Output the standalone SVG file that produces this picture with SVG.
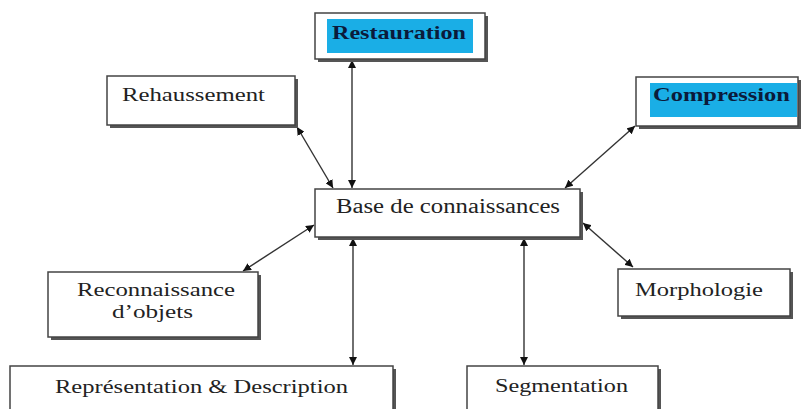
<svg xmlns="http://www.w3.org/2000/svg" width="801" height="409" viewBox="0 0 801 409">
<defs>
<marker id="ah" viewBox="0 0 10 10" refX="10" refY="5" markerWidth="8" markerHeight="8" markerUnits="userSpaceOnUse" orient="auto-start-reverse">
<path d="M0,0 L10,5 L0,10 z" fill="#111"/>
</marker>
<style>
.box{fill:#fff;stroke:#444;stroke-width:1.5}
.sh{fill:#555}
.t{font-family:"Liberation Serif","Times New Roman",serif;fill:#222;text-anchor:start}
.tb{font-family:"Liberation Serif","Times New Roman",serif;font-weight:bold;fill:#0b1a3a}
.blue{fill:#1aaee6}
.c{stroke:#333;stroke-width:1.4;fill:none;marker-start:url(#ah);marker-end:url(#ah)}
</style>
</defs>
<rect width="801" height="409" fill="#fff"/>
<g id="connectors">
<line class="c" x1="352" y1="60" x2="352" y2="188"/>
<line class="c" x1="297" y1="127" x2="333" y2="188"/>
<line class="c" x1="635" y1="126" x2="565" y2="188"/>
<line class="c" x1="314" y1="225" x2="243" y2="271"/>
<line class="c" x1="583" y1="223" x2="633" y2="267"/>
<line class="c" x1="353" y1="238" x2="353" y2="365"/>
<line class="c" x1="524" y1="238" x2="524" y2="365"/>
</g>
<g id="restauration">
<rect class="sh" x="318" y="16" width="170" height="46"/>
<rect class="box" x="315" y="13" width="170" height="46"/>
<rect class="blue" x="327" y="19" width="146" height="34"/>
<text class="tb" x="332" y="39" font-size="19" textLength="134" lengthAdjust="spacingAndGlyphs">Restauration</text>
</g>
<g id="rehaussement">
<rect class="sh" x="110" y="79" width="188" height="49"/>
<rect class="box" x="107" y="76" width="188" height="49"/>
<text class="t" x="122" y="101" font-size="19" textLength="143" lengthAdjust="spacingAndGlyphs">Rehaussement</text>
</g>
<g id="compression">
<rect class="sh" x="639" y="80" width="162" height="49"/>
<rect class="box" x="636" y="77" width="162" height="49"/>
<rect class="blue" x="650" y="83" width="147" height="34"/>
<text class="tb" x="653" y="101" font-size="18" textLength="137" lengthAdjust="spacingAndGlyphs">Compression</text>
</g>
<g id="base">
<rect class="sh" x="318" y="192" width="265" height="48"/>
<rect class="box" x="315" y="189" width="265" height="48"/>
<text class="t" x="336" y="213" font-size="20" textLength="224" lengthAdjust="spacingAndGlyphs">Base de connaissances</text>
</g>
<g id="reconnaissance">
<rect class="sh" x="51" y="275" width="210" height="65"/>
<rect class="box" x="48" y="272" width="210" height="65"/>
<text class="t" x="77" y="296" font-size="19" textLength="158" lengthAdjust="spacingAndGlyphs">Reconnaissance</text>
<text class="t" x="112" y="318" font-size="19" textLength="81" lengthAdjust="spacingAndGlyphs">d’objets</text>
</g>
<g id="morphologie">
<rect class="sh" x="621" y="272" width="172" height="47"/>
<rect class="box" x="618" y="269" width="172" height="47"/>
<text class="t" x="635" y="296" font-size="19" textLength="128" lengthAdjust="spacingAndGlyphs">Morphologie</text>
</g>
<g id="representation">
<rect class="sh" x="13" y="369" width="383" height="60"/>
<rect class="box" x="10" y="366" width="383" height="60"/>
<text class="t" x="55" y="393" font-size="19" textLength="293" lengthAdjust="spacingAndGlyphs">Représentation &amp; Description</text>
</g>
<g id="segmentation">
<rect class="sh" x="470" y="369" width="191" height="60"/>
<rect class="box" x="467" y="366" width="191" height="60"/>
<text class="t" x="495" y="392" font-size="19" textLength="133" lengthAdjust="spacingAndGlyphs">Segmentation</text>
</g>
</svg>
